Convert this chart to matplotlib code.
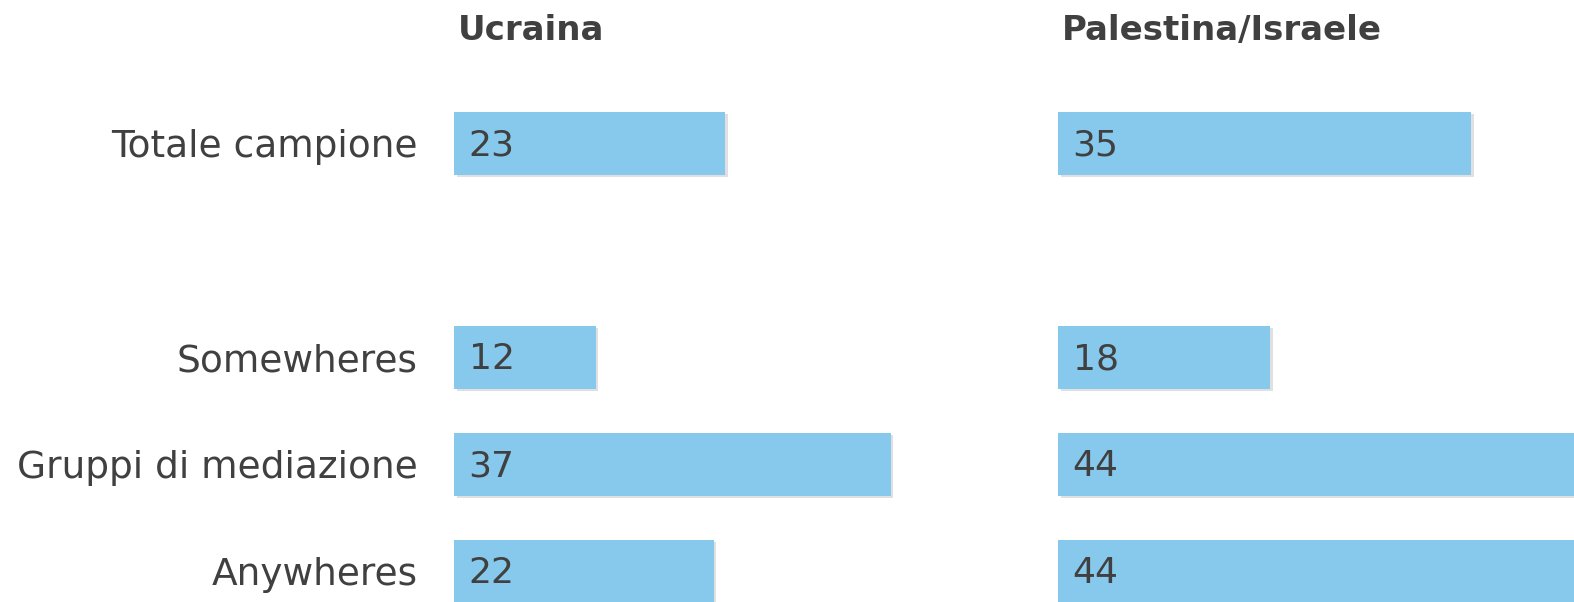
import matplotlib
matplotlib.use("Agg")
import matplotlib.pyplot as plt
import matplotlib.patheffects as pe

categories = ["Totale campione", "Somewheres", "Gruppi di mediazione", "Anywheres"]
positions = [0, 2, 3, 4]
titles = ["Ucraina", "Palestina/Israele"]
ucraina = [23, 12, 37, 22]
palestina = [35, 18, 44, 44]

BAR = "#87C9ED"
TXT = "#404040"
W, H = 1574, 602
DPI = 100
plt.rcParams["font.family"] = ["DejaVu Sans"]

fig = plt.figure(figsize=(W / DPI, H / DPI), dpi=DPI)

row_px = 107
top_center = 143
y_top = -top_center / row_px
y_bot = (H - top_center) / row_px

panels = [
    (titles[0], ucraina, 454, 11.8, True),
    (titles[1], palestina, 1058, 11.8, False),
]
for title, vals, x0, scale, show_labels in panels:
    width_px = W - x0
    ax = fig.add_axes([x0 / W, 0, width_px / W, 1])
    ax.set_xlim(0, width_px / scale)
    ax.set_ylim(y_bot, y_top)
    bars = ax.barh(positions, vals, height=63 / row_px, color=BAR, zorder=2)
    for b in bars:
        b.set_path_effects([pe.SimplePatchShadow(offset=(2, -2), shadow_rgbFace="#000000", alpha=0.12),
                            pe.Normal()])
    for p, v in zip(positions, vals):
        ax.annotate(str(v), xy=(0, p), xytext=(10.5, 1.0), textcoords="offset points",
                    ha="left", va="center_baseline", fontsize=26, color=TXT, zorder=3)
    for s in ax.spines.values():
        s.set_visible(False)
    ax.set_xticks([])
    ax.tick_params(axis="y", length=0, pad=26)
    if show_labels:
        ax.set_yticks(positions)
        ax.set_yticklabels(categories, fontsize=27, color=TXT)
    else:
        ax.set_yticks([])
    ax.text(4 / scale, y_top + 30 / row_px, title, ha="left", va="center",
            fontsize=24.5, fontweight="bold", color=TXT)

fig.savefig("out.png", dpi=DPI)
